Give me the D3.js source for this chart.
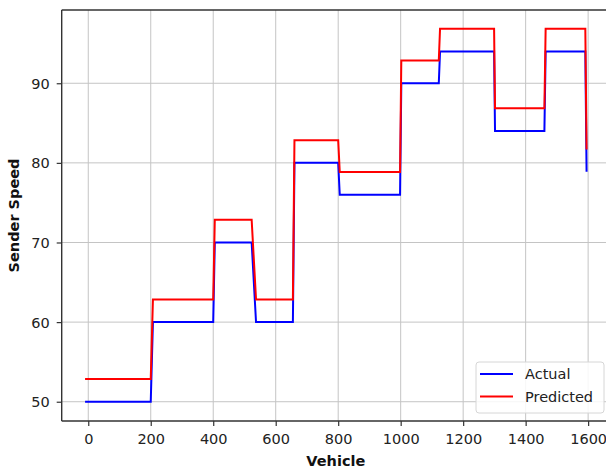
<!DOCTYPE html>
<html>
<head>
<meta charset="utf-8">
<script src="https://cdn.jsdelivr.net/npm/d3@7"></script>
<style>
  html, body { margin: 0; padding: 0; background: #fff; }
  svg { display: block; font-family: "DejaVu Sans", sans-serif; }
</style>
</head>
<body>
<svg id="chart" width="606" height="471"></svg>
<script>
// Speed plateaus per vehicle range: each plateau runs from segStart to segEnd
const segStart = [-7, 207, 405, 537, 660, 805, 1002, 1126, 1302, 1464];
const segEnd   = [200, 400, 523, 655, 800, 998, 1122, 1299, 1460, 1591];
const actualSpeed    = [50, 60, 70, 60, 80, 76, 90, 94, 84, 94];
const predictedSpeed = [52.85, 62.85, 72.85, 62.85, 82.85, 78.85, 92.85, 96.85, 86.85, 96.85];
// last sample after the final drop
const lastX = 1595;
const actualLast = 79;
const predictedLast = 81.8;

const xTicks = [0, 200, 400, 600, 800, 1000, 1200, 1400, 1600];
const yTicks = [50, 60, 70, 80, 90];

const series = [
  { name: "Actual",    values: actualSpeed,    last: actualLast,    color: "#0000ff" },
  { name: "Predicted", values: predictedSpeed, last: predictedLast, color: "#ff0000" }
];

const plotLeft = 61.7, plotRight = 610, plotTop = 10, plotBottom = 421;
const svg = d3.select("#chart");

const x = d3.scaleLinear().domain([-85, 1670]).range([plotLeft, plotRight]);
const y = d3.scaleLinear().domain([47.58, 99.2]).range([plotBottom, plotTop]);

// grid
const grid = svg.append("g");
grid.selectAll("line.gx").data(xTicks).join("line")
  .attr("x1", d => x(d)).attr("x2", d => x(d))
  .attr("y1", plotTop).attr("y2", plotBottom)
  .attr("stroke", "#c4c4c4").attr("stroke-width", 1);
grid.selectAll("line.gy").data(yTicks).join("line")
  .attr("y1", d => y(d)).attr("y2", d => y(d))
  .attr("x1", plotLeft).attr("x2", plotRight)
  .attr("stroke", "#c4c4c4").attr("stroke-width", 1);

// step lines
const line = d3.line().x(d => x(d[0])).y(d => y(d[1]));
series.forEach(s => {
  const pts = [];
  s.values.forEach((v, i) => { pts.push([segStart[i], v]); pts.push([segEnd[i], v]); });
  pts.push([lastX, s.last]);
  svg.append("path")
    .datum(pts)
    .attr("d", line)
    .attr("fill", "none")
    .attr("stroke", s.color)
    .attr("stroke-width", 2)
    .attr("stroke-linejoin", "miter")
    .attr("stroke-linecap", "square");
});

// axes
const xAxis = d3.axisBottom(x).tickValues(xTicks).tickSize(5).tickPadding(6).tickFormat(d3.format("d"));
const yAxis = d3.axisLeft(y).tickValues(yTicks).tickSize(5).tickPadding(7).tickFormat(d3.format("d"));

const gx = svg.append("g").attr("transform", `translate(0,${plotBottom})`).call(xAxis);
const gy = svg.append("g").attr("transform", `translate(${plotLeft},0)`).call(yAxis);
[gx, gy].forEach(g => {
  g.select(".domain").remove();
  g.selectAll(".tick line").attr("stroke", "#333").attr("stroke-width", 1.2);
  g.selectAll(".tick text").attr("fill", "#222").style("font-size", "14.5px")
    .style("font-family", "DejaVu Sans, sans-serif");
});
gx.selectAll(".tick text").attr("dy", null).attr("y", 23);
gy.selectAll(".tick text").attr("dy", "0.35em");

// spines
const spine = svg.append("g").attr("stroke", "#333").attr("stroke-width", 1.4).attr("fill", "none");
spine.append("line").attr("x1", plotLeft).attr("x2", plotLeft).attr("y1", plotTop).attr("y2", plotBottom);
spine.append("line").attr("x1", plotLeft).attr("x2", plotRight).attr("y1", plotTop).attr("y2", plotTop);
spine.append("line").attr("x1", plotLeft).attr("x2", plotRight).attr("y1", plotBottom).attr("y2", plotBottom);
spine.append("line").attr("x1", plotRight).attr("x2", plotRight).attr("y1", plotTop).attr("y2", plotBottom);

// axis labels
svg.append("text").attr("x", (plotLeft + plotRight) / 2).attr("y", 466)
  .attr("text-anchor", "middle").attr("font-weight", "bold")
  .style("font-size", "14.5px").attr("fill", "#111").text("Vehicle");
svg.append("text")
  .attr("transform", `translate(18.5,${(plotTop + plotBottom) / 2}) rotate(-90)`)
  .attr("text-anchor", "middle").attr("font-weight", "bold")
  .style("font-size", "14.5px").attr("fill", "#111").text("Sender Speed");

// legend
const lg = svg.append("g");
lg.append("rect").attr("x", 476).attr("y", 362).attr("width", 128).attr("height", 51)
  .attr("rx", 3).attr("fill", "#fff").attr("fill-opacity", 0.85)
  .attr("stroke", "#d6d6d6").attr("stroke-width", 1);
series.forEach((s, i) => {
  const cy = 374 + i * 22.5;
  lg.append("line").attr("x1", 480).attr("x2", 513).attr("y1", cy).attr("y2", cy)
    .attr("stroke", s.color).attr("stroke-width", 2);
  lg.append("text").attr("x", 525).attr("y", cy + 5.3)
    .style("font-size", "14.5px").attr("fill", "#222").text(s.name);
});
</script>
</body>
</html>
